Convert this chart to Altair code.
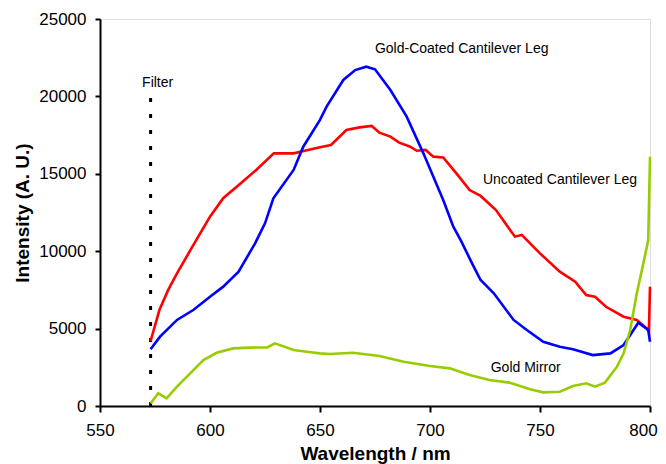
import altair as alt
import pandas as pd

# Uncoated Cantilever Leg (red)
red_x = [573, 577, 581, 585, 592, 600, 606, 614, 621, 629, 638, 645, 650, 655, 662, 668, 673.5, 677,
         682, 686, 691, 694, 698, 701.5, 706, 712, 718, 723, 730, 736.4, 738.6, 741.7, 750, 759, 766,
         771, 775, 780, 788, 794, 798.5, 799.5, 800]
red_y = [4200, 6200, 7500, 8570, 10290, 12230, 13420, 14390, 15250, 16320, 16320, 16550, 16710, 16860,
         17830, 18000, 18090, 17660, 17400, 17010, 16750, 16490, 16540, 16110, 16060, 15030, 13950,
         13570, 12660, 11370, 10940, 11050, 9860, 8680, 8030, 7170, 7060, 6410, 5770, 5560, 5020,
         4800, 7700]

# Gold-Coated Cantilever Leg (blue)
blue_x = [573, 577.3, 585, 592.4, 600, 606, 613, 620.5, 625, 628.8, 638, 642.4, 650, 653, 660.6, 666,
          671, 675, 682, 689.4, 697, 706, 710.6, 714, 719, 723, 729, 738, 744, 751.5, 759, 765, 774,
          782, 788, 794.7, 799.2, 800]
blue_y = [3660, 4480, 5560, 6200, 7060, 7710, 8680, 10510, 11800, 13420, 15250, 16750, 18480, 19340,
          21060, 21700, 21920, 21750, 20410, 18690, 16320, 13310, 11580, 10700, 9250, 8140, 7280, 5560,
          4910, 4150, 3830, 3660, 3290, 3400, 3940, 5380, 4910, 4150]

# Gold Mirror (green)
green_x = [573, 576.5, 580.3, 585, 591, 597, 603, 610.6, 618, 626, 629.5, 638, 644, 650, 654.5, 665,
           677, 688, 700, 709, 718, 727, 736, 745.5, 751.5, 759, 765, 771, 775, 779.5, 785, 788, 791,
           794, 797, 799.2, 800]
green_y = [170, 820, 500, 1250, 2110, 2970, 3440, 3720, 3770, 3790, 4050, 3620, 3510, 3400, 3360, 3440,
           3230, 2860, 2580, 2430, 2000, 1680, 1510, 1080, 880, 920, 1290, 1470, 1250, 1510, 2540, 3400,
           4910, 7280, 9220, 10720, 16100]

# Filter line
filter_x = [573, 573]
filter_y = [0, 20000]

# Annotations
label_text = ["Gold-Coated Cantilever Leg", "Uncoated Cantilever Leg", "Gold Mirror", "Filter"]
label_x = [714.4, 759.1, 743.5, 576.2]
label_y = [23060, 14600, 2470, 20870]

x_ticks = [550, 600, 650, 700, 750, 800]
y_ticks = [0, 5000, 10000, 15000, 20000, 25000]

FONT = "Liberation Sans"

xscale = alt.Scale(domain=[550, 800], nice=False, zero=False)
yscale = alt.Scale(domain=[0, 25000], nice=False)

xaxis = alt.Axis(values=x_ticks, title="Wavelength / nm", grid=False, labelFontSize=17, labelFont=FONT,
                 labelColor="black", labelPadding=10, labelFlush=False,
                 labelOffset=alt.condition("datum.value == 800", alt.value(-7), alt.value(0)),
                 tickSize=6, tickWidth=2,
                 tickColor="black", domainColor="black", domainWidth=2, titleFont=FONT,
                 titleFontSize=19, titleFontWeight="bold", titleColor="black", titleX=275, titleY=53,
                 titleBaseline="alphabetic", titleAlign="center")
yaxis = alt.Axis(values=y_ticks, title="Intensity (A. U.)", format="d", grid=False, labelFontSize=17,
                 labelFont=FONT, labelColor="black", labelPadding=9, tickSize=5, tickWidth=2,
                 tickColor="black", domainColor="black", domainWidth=2, titleFont=FONT,
                 titleFontSize=19, titleFontWeight="bold", titleColor="black", titleAngle=270,
                 titleX=-72, titleY=193.5, titleBaseline="alphabetic", titleAlign="center")

def series(xs, ys, color):
    df = pd.DataFrame({"x": xs, "y": ys, "i": list(range(len(xs)))})
    return alt.Chart(df).mark_line(color=color, strokeWidth=2.6).encode(
        x=alt.X("x:Q", scale=xscale, axis=xaxis),
        y=alt.Y("y:Q", scale=yscale, axis=yaxis),
        order="i:Q",
    )

filt = alt.Chart(pd.DataFrame({"x": filter_x, "y": filter_y})).mark_line(
    color="black", strokeWidth=3, strokeDash=[4, 12]
).encode(x=alt.X("x:Q", scale=xscale, axis=xaxis), y=alt.Y("y:Q", scale=yscale, axis=yaxis))

labels = alt.Chart(pd.DataFrame({"t": label_text, "x": label_x, "y": label_y})).mark_text(
    font=FONT, fontSize=14, color="black", align="center", baseline="middle"
).encode(x=alt.X("x:Q", scale=xscale, axis=xaxis), y=alt.Y("y:Q", scale=yscale, axis=yaxis), text="t:N")

chart = alt.layer(
    filt,
    series(red_x, red_y, "#ff0000"),
    series(blue_x, blue_y, "#0000ff"),
    series(green_x, green_y, "#99cc00"),
    labels,
).properties(
    width=550, height=387, autosize="none",
    padding={"left": 92, "top": 11, "right": 8, "bottom": 58},
).configure_view(stroke="#222222", strokeWidth=2).configure(background="white")

chart.save("out.html", embed_options={"renderer": "svg", "actions": False})
